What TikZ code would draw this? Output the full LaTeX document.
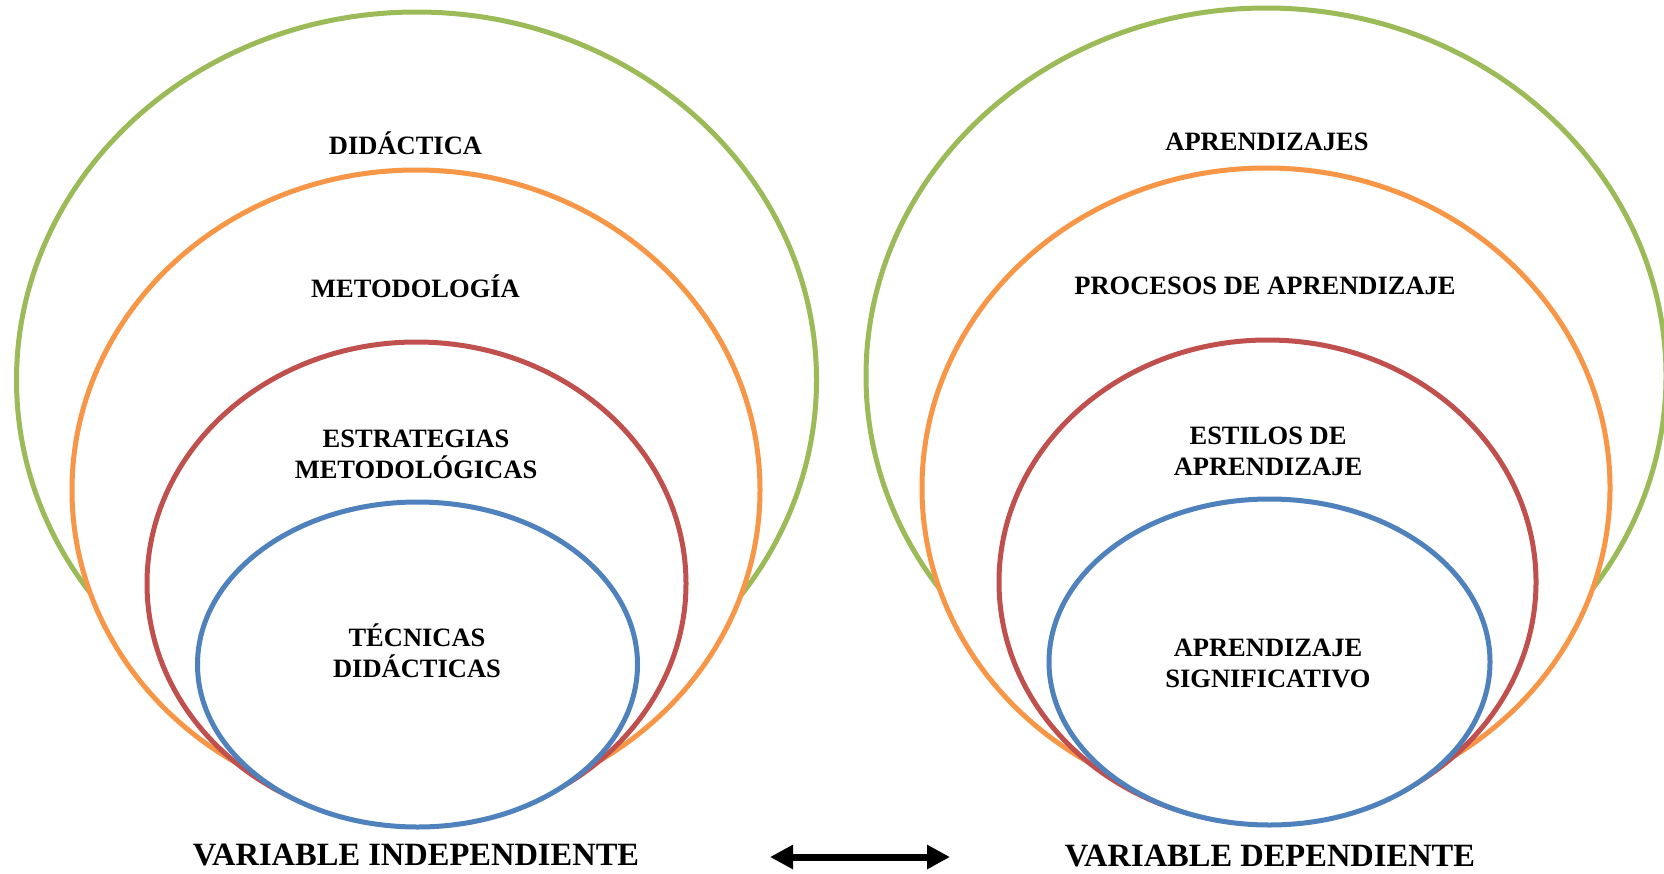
\documentclass[tikz,border=0pt]{standalone}
\usepackage{fontspec}
\setmainfont{Liberation Serif}
\usetikzlibrary{shapes.geometric,arrows.meta,positioning}
\definecolor{ringgreen}{RGB}{155,187,89}
\definecolor{ringorange}{RGB}{247,150,70}
\definecolor{ringred}{RGB}{192,80,77}
\definecolor{ringblue}{RGB}{79,129,189}

\begin{document}
\begin{tikzpicture}[
        x=1pt, y=-1pt,
        font=\bfseries\fontsize{26.5}{31}\selectfont,
        ring/.style={ellipse, draw=#1, fill=white, line width=5pt, inner sep=0pt},
        tag/.style={anchor=base, align=center, inner sep=0pt},
        varname/.style={anchor=base, inner sep=0pt, font=\bfseries\fontsize{32.5}{37}\selectfont},
        link/.style={{Triangle[length=23pt,width=23pt]}-{Triangle[length=23pt,width=23pt]}, line width=7pt}
    ]
        \useasboundingbox (0,0) rectangle (1664,873);

        \node[ring=ringgreen, minimum width=800pt, minimum height=736pt] (did) at (416.5,380) {};
        \node[ring=ringorange, minimum width=688pt, minimum height=640pt] (met) at (416,490) {};
        \node[ring=ringred, minimum width=539pt, minimum height=483pt] (est) at (416.5,583.5) {};
        \node[ring=ringblue, minimum width=440pt, minimum height=325pt] (tec) at (417.5,664.5) {};

        \node[ring=ringgreen, minimum width=800pt, minimum height=736pt] (apr) at (1266,376) {};
        \node[ring=ringorange, minimum width=688pt, minimum height=640pt] (pro) at (1266,488) {};
        \node[ring=ringred, minimum width=537pt, minimum height=484pt] (sti) at (1267.5,582) {};
        \node[ring=ringblue, minimum width=441pt, minimum height=326pt] (sig) at (1269.5,662) {};

        \node[tag] (didtag) at (405.5,154) {DIDÁCTICA};
        \node[tag] (mettag) at (415.5,297) {METODOLOGÍA};
        \node[tag] (esttag) at (416,478) {ESTRATEGIAS\\METODOLÓGICAS};
        \node[tag] (tectag) at (417,677) {TÉCNICAS\\DIDÁCTICAS};

        \node[tag] (aprtag) at (1267,150) {APRENDIZAJES};
        \node[tag] (protag) at (1265,294) {PROCESOS DE APRENDIZAJE};
        \node[tag] (stitag) at (1268,475) {ESTILOS DE\\APRENDIZAJE};
        \node[tag] (sigtag) at (1268,687) {APRENDIZAJE\\SIGNIFICATIVO};

        \node[varname] (indep) at (416,865) {VARIABLE INDEPENDIENTE};
        \node[varname] (dep) at (1270,866) {VARIABLE DEPENDIENTE};

        \coordinate (independ) at (770,857);
        \coordinate (depend) at (950,857);
        \draw[link] (independ) -- (depend);
    \end{tikzpicture}
\end{document}
